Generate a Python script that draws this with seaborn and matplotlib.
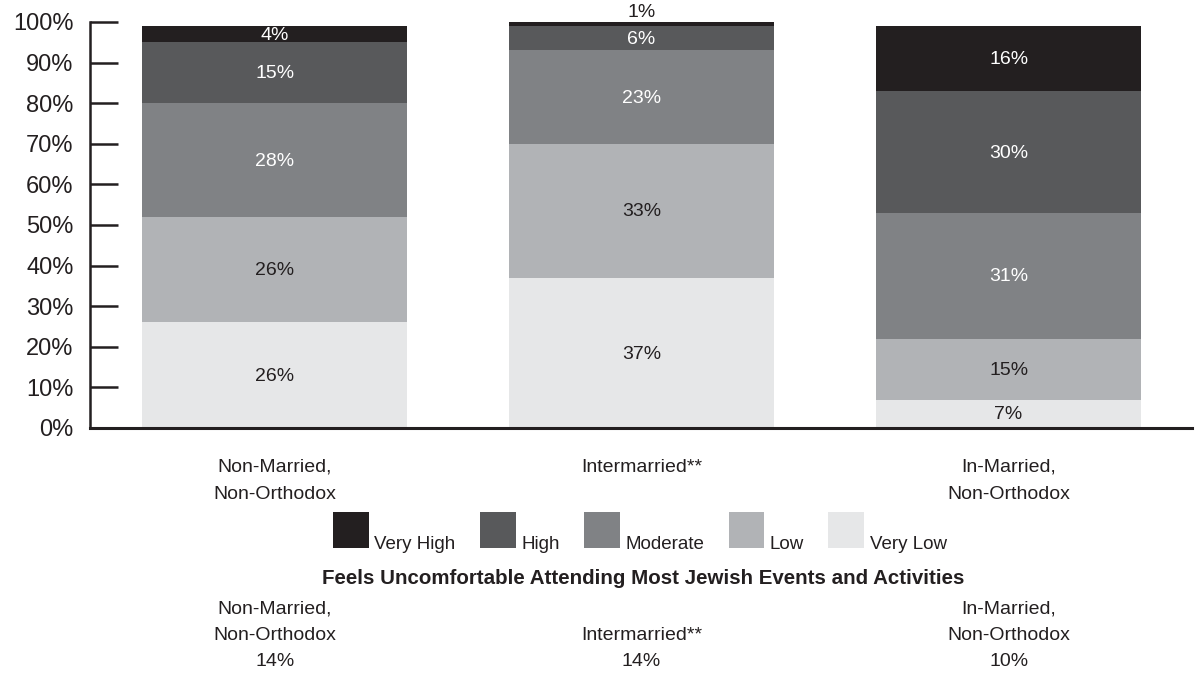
import numpy as np
import pandas as pd
import matplotlib
matplotlib.use("Agg")
import matplotlib.pyplot as plt
import matplotlib.transforms as mtransforms
from matplotlib.patches import Patch
import seaborn as sns

# data
groups = ["Non-Married,\nNon-Orthodox", "Intermarried**", "In-Married,\nNon-Orthodox"]
levels = ["Very Low", "Low", "Moderate", "High", "Very High"]
very_low = [26, 37, 7]
low = [26, 33, 15]
moderate = [28, 23, 31]
high = [15, 6, 30]
very_high = [4, 1, 16]
uncomfortable = [14, 14, 10]
table_title = "Feels Uncomfortable Attending Most Jewish Events and Activities"

colors = {"Very Low": "#e6e7e8", "Low": "#b1b3b6", "Moderate": "#808285",
          "High": "#58595b", "Very High": "#231f20"}
label_colors = {"Very Low": "#231f20", "Low": "#231f20", "Moderate": "white",
                "High": "white", "Very High": "white"}
dark = "#231f20"

sns.set_style("white")
plt.rcParams["font.family"] = ["Liberation Sans", "DejaVu Sans"]

df = pd.DataFrame({"group": groups, "Very Low": very_low, "Low": low,
                   "Moderate": moderate, "High": high, "Very High": very_high})
cum = df[levels].cumsum(axis=1)

fig = plt.figure(figsize=(11.96, 6.75), dpi=100)
ax = fig.add_axes([0.0753, 0.366, 0.9214, 0.6015])

# stacked bars: draw cumulative totals from the top level down
for lev in reversed(levels):
    sns.barplot(x=df["group"], y=cum[lev], color=colors[lev], width=0.722,
                saturation=1, linewidth=0, edgecolor="none", ax=ax, zorder=2)

# segment labels
for i in range(len(groups)):
    for lev in levels:
        v = df.loc[i, lev]
        top = cum.loc[i, lev]
        if v < 3:
            ax.text(i, top + 0.2, f"{v}%", ha="center", va="bottom",
                    fontsize=14, color=dark, zorder=5, clip_on=False)
        else:
            ax.text(i, top - v / 2 - 0.3, f"{v}%", ha="center", va="center",
                    fontsize=14, color=label_colors[lev], zorder=5)

ax.set_xlim(-0.503, 2.5)
ax.set_ylim(0, 100)
ax.set_yticks(np.arange(0, 101, 10))
ax.set_yticklabels([f"{t}%" for t in range(0, 101, 10)])
ax.set_xlabel("")
ax.set_ylabel("")
ax.tick_params(axis="y", direction="in", length=20, width=1.8, color=dark,
               labelsize=17, labelcolor=dark, pad=12, left=True)
ax.tick_params(axis="x", length=0, labelsize=14, labelcolor=dark, pad=22)
for lbl in ax.get_xticklabels():
    lbl.set_verticalalignment("top")
    lbl.set_linespacing(1.8)
sns.despine(ax=ax, top=True, right=True)
ax.spines["left"].set_linewidth(1.8)
ax.spines["bottom"].set_linewidth(2.2)
ax.spines["left"].set_color(dark)
ax.spines["bottom"].set_color(dark)

# legend
handles = [Patch(facecolor=colors[lev], edgecolor="none") for lev in reversed(levels)]
leg = fig.legend(handles, list(reversed(levels)), ncol=5, loc="center",
                 bbox_to_anchor=(0.535, 0.215), frameon=False, fontsize=13.5,
                 handlelength=1.9, handleheight=2.6, handletextpad=0.3,
                 columnspacing=1.3, labelcolor=dark)
for t in leg.get_texts():
    t.set_verticalalignment("top")

# table beneath the legend
trans = mtransforms.blended_transform_factory(ax.transData, fig.transFigure)
fig.text(0.538, 1 - 579 / 675, table_title, ha="center", va="center",
         fontsize=14.8, fontweight="bold", color=dark)
for i, g in enumerate(groups):
    lines = g.split("\n")
    if len(lines) == 1:
        lines = [""] + lines
    rows = lines + [f"{uncomfortable[i]}%"]
    for r, txt in enumerate(rows):
        fig.text(i, 1 - (609 + 26.5 * r) / 675, txt, transform=trans,
                 ha="center", va="center", fontsize=14, color=dark)

fig.savefig("out.png", dpi=100)
